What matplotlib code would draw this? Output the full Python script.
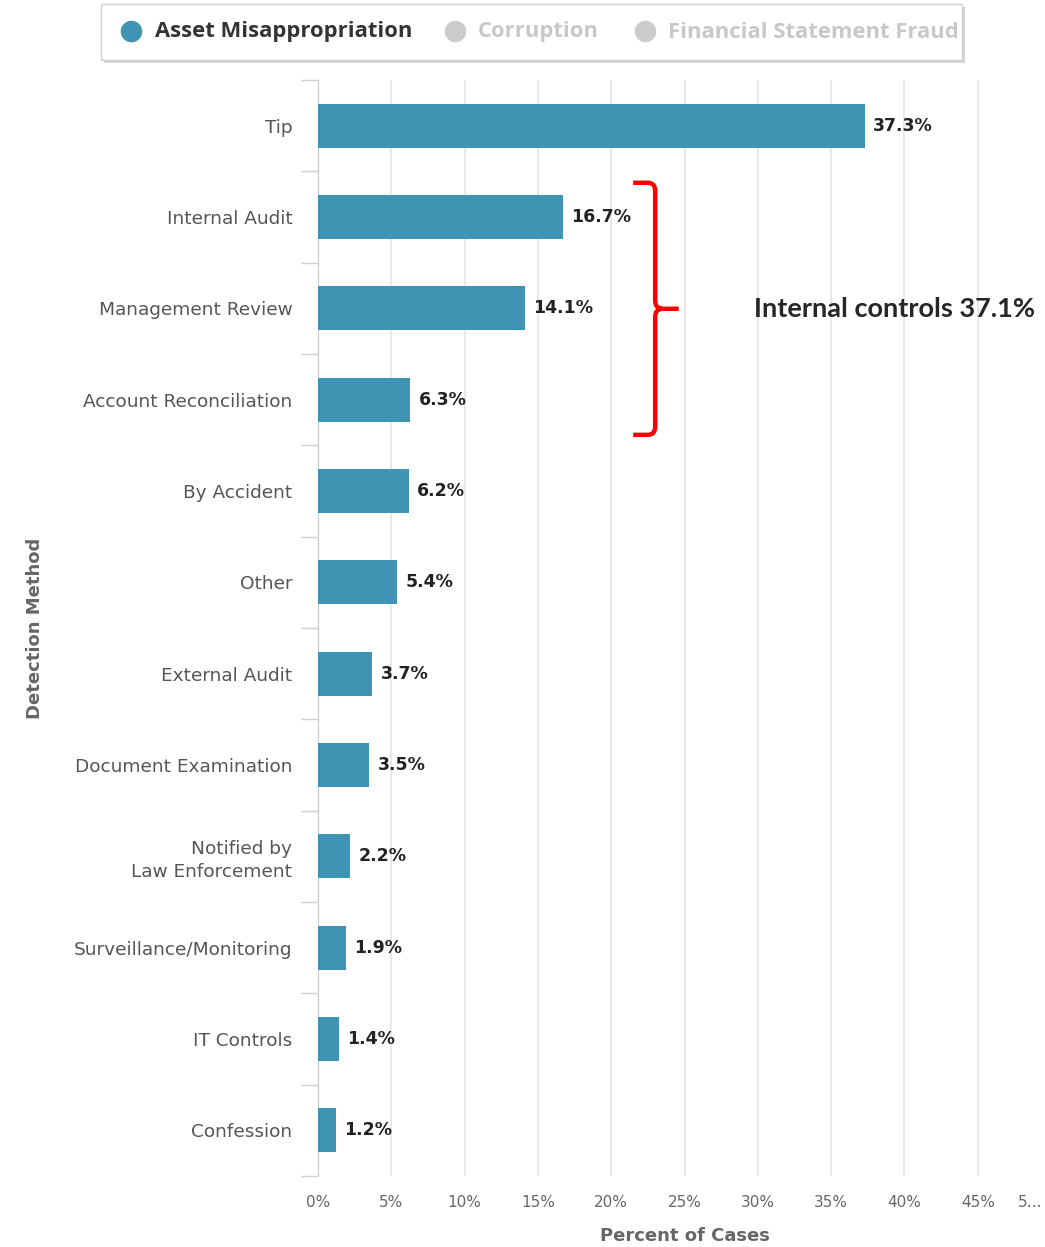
import numpy as np
import matplotlib
matplotlib.use('Agg')
import matplotlib.pyplot as plt
from matplotlib.path import Path
from matplotlib.patches import PathPatch, Rectangle
from matplotlib.lines import Line2D
import matplotlib.transforms as mtransforms

# ── Data ──────────────────────────────────────────────────────────────────────
categories = ["Tip", "Internal Audit", "Management Review", "Account Reconciliation",
              "By Accident", "Other", "External Audit", "Document Examination",
              "Notified by\nLaw Enforcement", "Surveillance/Monitoring",
              "IT Controls", "Confession"]
values = [37.3, 16.7, 14.1, 6.3, 6.2, 5.4, 3.7, 3.5, 2.2, 1.9, 1.4, 1.2]
x_ticks = [0, 5, 10, 15, 20, 25, 30, 35, 40, 45, 50]
x_tick_labels = ["0%", "5%", "10%", "15%", "20%", "25%", "30%", "35%", "40%", "45%", "5…"]
legend_items = ["Asset Misappropriation", "Corruption", "Financial Statement Fraud"]
internal_idx = [1, 2, 3]   # Internal Audit, Management Review, Account Reconciliation

BAR_COLOR  = '#3f93b3'
GRID_COLOR = '#e4e4e4'
LABEL_GREY = '#555555'

plt.rcParams['font.family'] = ['DejaVu Sans']

# ── Figure ────────────────────────────────────────────────────────────────────
W, H = 1045, 1247
fig = plt.figure(figsize=(W / 100, H / 100), dpi=100)
ax = fig.add_axes([318 / W, 1 - 1176 / H, 733 / W, (1176 - 80) / H])

y = np.arange(len(categories))
ax.barh(y, values, height=0.48, color=BAR_COLOR, zorder=3)
ax.set_ylim(len(categories) - 0.5, -0.5)
ax.set_xlim(0, 50)

# value labels
for yi, v in zip(y, values):
    ax.annotate(f"{v:.1f}%", (v, yi), xytext=(6, 0), textcoords='offset points',
                ha='left', va='center', fontsize=12.5, fontweight='bold', color='#222222')

# axes styling
for s in ['top', 'right', 'bottom']:
    ax.spines[s].set_visible(False)
ax.spines['left'].set_color('#c8c8c8')
ax.grid(axis='x', color=GRID_COLOR, linewidth=1.2, zorder=0)
ax.set_axisbelow(True)

ax.set_yticks(y)
ax.set_yticklabels(categories, fontsize=13.3, color=LABEL_GREY, linespacing=1.35,
                   family='DejaVu Sans')
ax.set_yticks(np.arange(-0.5, len(categories), 1), minor=True)
ax.tick_params(axis='y', which='major', length=0, pad=18.5)
ax.tick_params(axis='y', which='minor', length=12, color='#d0d0d0', width=1)

ax.set_xticks(x_ticks)
ax.set_xticklabels(x_tick_labels, fontsize=11, color='#666666')
ax.tick_params(axis='x', length=0, pad=14)
last = ax.get_xticklabels()[-1]
last.set_ha('right')
last.set_transform(last.get_transform() + mtransforms.ScaledTranslation(-8 / 100, 0, fig.dpi_scale_trans))

ax.set_xlabel("Percent of Cases", fontsize=13, fontweight='bold', color='#666666', labelpad=12)
ax.set_ylabel("Detection Method", fontsize=13, fontweight='bold', color='#666666')
ax.yaxis.set_label_coords(-0.374, 0.5)

# ── Bracket for internal controls ─────────────────────────────────────────────
top = internal_idx[0] - 0.375
bot = internal_idx[-1] + 0.385
mid = (top + bot) / 2
xb, xl, xt = 23.0, 21.5, 24.6
dx, dy = 0.5, 0.09
verts = [(xl, top), (xb - dx, top), (xb, top), (xb, top + dy),
         (xb, mid - dy), (xb, mid), (xb + dx, mid), (xt, mid),
         (xb + dx, mid), (xb, mid), (xb, mid + dy),
         (xb, bot - dy), (xb, bot), (xb - dx, bot), (xl, bot)]
codes = [Path.MOVETO, Path.LINETO, Path.CURVE3, Path.CURVE3,
         Path.LINETO, Path.CURVE3, Path.CURVE3, Path.LINETO,
         Path.MOVETO, Path.CURVE3, Path.CURVE3,
         Path.LINETO, Path.CURVE3, Path.CURVE3, Path.LINETO]
ax.add_patch(PathPatch(Path(verts, codes), facecolor='none', edgecolor='#ff0000',
                       linewidth=3.2, capstyle='butt', zorder=5, clip_on=False))

total_internal = sum(values[i] for i in internal_idx)
ax.text(39.3, mid, f"Internal controls {total_internal:.1f}%", ha='center', va='center',
        fontsize=19.5, fontweight='bold', color='#262626',
        family=['Lato', 'DejaVu Sans'], zorder=6)

# ── Legend box ────────────────────────────────────────────────────────────────
def fx(px): return px / W
def fy(py): return 1 - py / H

fig.patches.append(Rectangle((fx(104), fy(63)), fx(962) - fx(101), fy(4) - fy(60),
                             transform=fig.transFigure, facecolor='#d6d6d6',
                             edgecolor='none', zorder=0))
fig.patches.append(Rectangle((fx(101), fy(60)), fx(962) - fx(101), fy(4) - fy(60),
                             transform=fig.transFigure, facecolor='white',
                             edgecolor='#cfcfcf', linewidth=1, zorder=1))

marker_x = [131, 455, 645]
text_x   = [155, 478, 668]
colors   = [BAR_COLOR, '#cccccc', '#cccccc']
tcolors  = ['#333333', '#c8c8c8', '#c8c8c8']
for name, mx, tx, c, tc in zip(legend_items, marker_x, text_x, colors, tcolors):
    fig.add_artist(Line2D([fx(mx)], [fy(31)], marker='o', markersize=14.5,
                          color=c, transform=fig.transFigure, zorder=2))
    fig.text(fx(tx), fy(32), name, ha='left', va='center', fontsize=15.8,
             fontweight='bold', color=tc, family=['Open Sans', 'DejaVu Sans'], zorder=2)

fig.savefig('out.png', dpi=100)
